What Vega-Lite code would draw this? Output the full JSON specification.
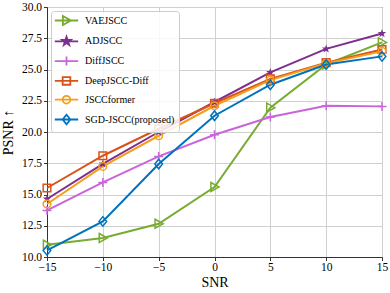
{
  "$schema": "https://vega.github.io/schema/vega-lite/v6.json",
  "width": 335,
  "height": 250,
  "autosize": {"type": "none"},
  "padding": {"left": 47, "top": 7, "right": 8, "bottom": 36},
  "background": "white",
  "config": {
    "font": "Liberation Serif",
    "view": {"stroke": "#333333", "strokeWidth": 1},
    "axis": {
      "labelFont": "Liberation Serif",
      "titleFont": "Liberation Serif",
      "labelFontSize": 11.5,
      "titleFontSize": 14,
      "titleFontWeight": "normal",
      "labelColor": "#000000",
      "titleColor": "#000000",
      "gridColor": "#d0d0d0",
      "gridWidth": 1,
      "domainColor": "#333333",
      "tickColor": "#333333",
      "tickSize": 3.5,
      "labelFlush": false
    },
    "legend": {
      "labelFont": "Liberation Serif",
      "labelFontSize": 10,
      "labelColor": "#000000"
    },
    "point": {"filled": false, "strokeWidth": 1.5, "size": 81, "opacity": 1}
  },
  "datasets": {
    "pts": [
      {"method": "VAEJSCC", "snr": -15, "psnr": 10.98},
      {"method": "VAEJSCC", "snr": -10, "psnr": 11.52},
      {"method": "VAEJSCC", "snr": -5, "psnr": 12.66},
      {"method": "VAEJSCC", "snr": 0, "psnr": 15.6},
      {"method": "VAEJSCC", "snr": 5, "psnr": 21.95},
      {"method": "VAEJSCC", "snr": 10, "psnr": 25.4},
      {"method": "VAEJSCC", "snr": 15, "psnr": 27.17},
      {"method": "ADJSCC", "snr": -15, "psnr": 14.64},
      {"method": "ADJSCC", "snr": -10, "psnr": 17.45},
      {"method": "ADJSCC", "snr": -5, "psnr": 20.0},
      {"method": "ADJSCC", "snr": 0, "psnr": 22.4},
      {"method": "ADJSCC", "snr": 5, "psnr": 24.77},
      {"method": "ADJSCC", "snr": 10, "psnr": 26.65},
      {"method": "ADJSCC", "snr": 15, "psnr": 27.88},
      {"method": "DiffJSCC", "snr": -15, "psnr": 13.73},
      {"method": "DiffJSCC", "snr": -10, "psnr": 15.97},
      {"method": "DiffJSCC", "snr": -5, "psnr": 18.05},
      {"method": "DiffJSCC", "snr": 0, "psnr": 19.78},
      {"method": "DiffJSCC", "snr": 5, "psnr": 21.2},
      {"method": "DiffJSCC", "snr": 10, "psnr": 22.1},
      {"method": "DiffJSCC", "snr": 15, "psnr": 22.05},
      {"method": "DeepJSCC-Diff", "snr": -15, "psnr": 15.52},
      {"method": "DeepJSCC-Diff", "snr": -10, "psnr": 18.1},
      {"method": "DeepJSCC-Diff", "snr": -5, "psnr": 20.26},
      {"method": "DeepJSCC-Diff", "snr": 0, "psnr": 22.3},
      {"method": "DeepJSCC-Diff", "snr": 5, "psnr": 24.25},
      {"method": "DeepJSCC-Diff", "snr": 10, "psnr": 25.55},
      {"method": "DeepJSCC-Diff", "snr": 15, "psnr": 26.6},
      {"method": "JSCCformer", "snr": -15, "psnr": 14.24},
      {"method": "JSCCformer", "snr": -10, "psnr": 17.25},
      {"method": "JSCCformer", "snr": -5, "psnr": 19.7},
      {"method": "JSCCformer", "snr": 0, "psnr": 22.1},
      {"method": "JSCCformer", "snr": 5, "psnr": 24.15},
      {"method": "JSCCformer", "snr": 10, "psnr": 25.5},
      {"method": "JSCCformer", "snr": 15, "psnr": 26.45},
      {"method": "SGD-JSCC(proposed)", "snr": -15, "psnr": 10.53},
      {"method": "SGD-JSCC(proposed)", "snr": -10, "psnr": 12.85},
      {"method": "SGD-JSCC(proposed)", "snr": -5, "psnr": 17.44},
      {"method": "SGD-JSCC(proposed)", "snr": 0, "psnr": 21.3},
      {"method": "SGD-JSCC(proposed)", "snr": 5, "psnr": 23.78},
      {"method": "SGD-JSCC(proposed)", "snr": 10, "psnr": 25.4},
      {"method": "SGD-JSCC(proposed)", "snr": 15, "psnr": 26.05}
    ]
  },
  "data": {"name": "pts"},
  "encoding": {
    "x": {
      "field": "snr", "type": "quantitative",
      "scale": {"domain": [-15, 15], "nice": false, "zero": false},
      "axis": {"values": [-15, -10, -5, 0, 5, 10, 15], "title": "SNR", "titlePadding": 2, "labelPadding": 1}
    },
    "y": {
      "field": "psnr", "type": "quantitative",
      "scale": {"domain": [10, 30], "nice": false, "zero": false},
      "axis": {"values": [10, 12.5, 15, 17.5, 20, 22.5, 25, 27.5, 30], "format": ".1f", "title": "PSNR ↑", "titlePadding": 6, "labelPadding": 2}
    }
  },
  "layer": [
    {
      "mark": {"type": "line", "strokeWidth": 2},
      "encoding": {
        "color": {
          "field": "method", "type": "nominal", "title": null,
          "scale": {
            "domain": ["VAEJSCC", "ADJSCC", "DiffJSCC", "DeepJSCC-Diff", "JSCCformer", "SGD-JSCC(proposed)"],
            "range": ["#77AC30", "#7E2F8E", "#C964DA", "#D95319", "#F59E1B", "#0072BD"]
          },
          "legend": {
            "orient": "top-left", "offset": 4, "padding": 4,
            "symbolOffset": 6, "labelOffset": 13, "rowPadding": 3.8,
            "symbolSize": 81, "symbolStrokeWidth": 1.8,
            "fillColor": "rgba(255,255,255,0.85)", "strokeColor": "#cccccc", "cornerRadius": 3,
            "encode": {
              "symbols": {
                "update": {
                  "shape": {"signal": "datum.value === 'VAEJSCC' ? 'M-2.6,0H2.6M-0.8,-1L1,0L-0.8,1Z' : datum.value === 'ADJSCC' ? 'M-2.6,0H2.6M0,-1L0.235,-0.324L0.951,-0.309L0.38,0.124L0.588,0.809L0,0.4L-0.588,0.809L-0.38,0.124L-0.951,-0.309L-0.235,-0.324Z' : datum.value === 'DiffJSCC' ? 'M-2.6,0H2.6M0,-1V1' : datum.value === 'DeepJSCC-Diff' ? 'M-2.6,0H2.6M-0.85,-0.85H0.85V0.85H-0.85Z' : datum.value === 'JSCCformer' ? 'M-2.6,0H2.6M0.85,0A0.85,0.85 0 1 1 -0.85,0A0.85,0.85 0 1 1 0.85,0Z' : 'M-2.6,0H2.6M0,-1.05L0.85,0L0,1.05L-0.85,0Z'"},
                  "fill": {"signal": "datum.value === 'ADJSCC' ? '#7E2F8E' : 'transparent'"},
                  "strokeWidth": {"value": 1.8}
                }
              }
            }
          }
        },
        "order": {"field": "snr"}
      }
    },
    {
      "transform": [{"filter": "datum.method === 'VAEJSCC'"}],
      "mark": {"type": "point", "color": "#77AC30", "shape": "M-0.8,-1L1,0L-0.8,1Z"},
      "encoding": {}
    },
    {
      "transform": [{"filter": "datum.method === 'ADJSCC'"}],
      "mark": {"type": "point", "filled": true, "color": "#7E2F8E", "shape": "M0,-1L0.235,-0.324L0.951,-0.309L0.38,0.124L0.588,0.809L0,0.4L-0.588,0.809L-0.38,0.124L-0.951,-0.309L-0.235,-0.324Z"},
      "encoding": {}
    },
    {
      "transform": [{"filter": "datum.method === 'DiffJSCC'"}],
      "mark": {"type": "point", "color": "#C964DA", "shape": "M-1,0H1M0,-1V1"},
      "encoding": {}
    },
    {
      "transform": [{"filter": "datum.method === 'DeepJSCC-Diff'"}],
      "mark": {"type": "point", "color": "#D95319", "shape": "M-0.85,-0.85H0.85V0.85H-0.85Z"},
      "encoding": {}
    },
    {
      "transform": [{"filter": "datum.method === 'JSCCformer'"}],
      "mark": {"type": "point", "color": "#F59E1B", "shape": "M0.85,0A0.85,0.85 0 1 1 -0.85,0A0.85,0.85 0 1 1 0.85,0Z"},
      "encoding": {}
    },
    {
      "transform": [{"filter": "datum.method === 'SGD-JSCC(proposed)'"}],
      "mark": {"type": "point", "color": "#0072BD", "shape": "M0,-1.05L0.85,0L0,1.05L-0.85,0Z"},
      "encoding": {}
    }
  ]
}
